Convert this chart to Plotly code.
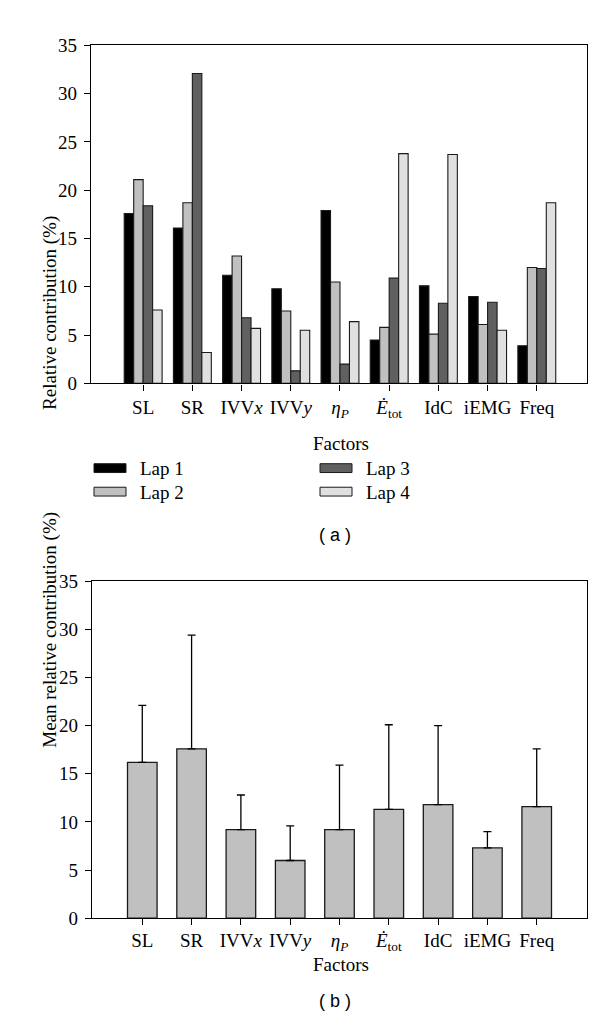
import plotly.graph_objects as go

factors = ["SL", "SR", "IVV<i>x</i>", "IVV<i>y</i>", "<i>η</i><sub><i>P</i></sub>",
           "<i>Ė</i><sub>tot</sub>", "IdC", "iEMG", "Freq"]
laps = ["Lap 1", "Lap 2", "Lap 3", "Lap 4"]
lap1 = [17.6, 16.1, 11.2, 9.8, 17.9, 4.5, 10.1, 9.0, 3.9]
lap2 = [21.1, 18.7, 13.2, 7.5, 10.5, 5.8, 5.1, 6.1, 12.0]
lap3 = [18.4, 32.1, 6.8, 1.3, 2.0, 10.9, 8.3, 8.4, 11.9]
lap4 = [7.6, 3.2, 5.7, 5.5, 6.4, 23.8, 23.7, 5.5, 18.7]
lap_colors = ["#000000", "#c0c0c0", "#606060", "#e0e0e0"]
mean_vals = [16.2, 17.6, 9.2, 6.0, 9.2, 11.3, 11.8, 7.3, 11.6]
sd_vals = [5.9, 11.8, 3.6, 3.6, 6.7, 8.8, 8.2, 1.7, 6.0]
yticks = [0, 5, 10, 15, 20, 25, 30, 35]

W, H = 600, 1029
SERIF = "Liberation Serif"

def px(x):
    return x / W

def py(y):
    return 1 - y / H

fig = go.Figure()
for name, vals, col in zip(laps, [lap1, lap2, lap3, lap4], lap_colors):
    fig.add_trace(go.Bar(x=factors, y=vals, name=name, marker_color=col,
                         marker_line=dict(color="#1a1a1a", width=1.1),
                         xaxis="x", yaxis="y", showlegend=False))

fig.add_trace(go.Bar(x=factors, y=mean_vals, marker_color="#c0c0c0",
                     marker_line=dict(color="#1a1a1a", width=1.3),
                     error_y=dict(type="data", array=sd_vals, symmetric=False,
                                  arrayminus=[0] * len(sd_vals),
                                  color="#000000", thickness=1.3, width=4),
                     width=0.6, xaxis="x2", yaxis="y2", showlegend=False))

axis_common = dict(showline=True, linecolor="#000000", linewidth=1.3, mirror=True,
                   ticks="outside", ticklen=6, tickwidth=1.3, tickcolor="#000000",
                   showgrid=False, zeroline=False,
                   tickfont=dict(family=SERIF, size=19, color="#000000"))

fig.update_layout(
    width=W, height=H, margin=dict(l=0, r=0, t=0, b=0),
    paper_bgcolor="white", plot_bgcolor="white",
    barmode="group", bargap=0.23, bargroupgap=0,
    xaxis=dict(domain=[px(83), px(579)], anchor="y", type="category",
               range=[-1.06, 9.02], ticklabelstandoff=1, **axis_common),
    yaxis=dict(domain=[py(373), py(28)], anchor="x", range=[0, 35],
               tickvals=yticks, ticklabelstandoff=3, **axis_common),
    xaxis2=dict(domain=[px(84), px(579)], anchor="y2", type="category",
                range=[-1.02, 9.02], ticklabelstandoff=-1, **axis_common),
    yaxis2=dict(domain=[py(919), py(575)], anchor="x2", range=[0, 35],
                tickvals=yticks, ticklabelstandoff=3, **axis_common),
)

annotations = [
    dict(text="Relative contribution (%)", x=px(29), y=py(200), textangle=-90,
         font=dict(family=SERIF, size=19)),
    dict(text="Factors", x=px(333), y=py(434), font=dict(family=SERIF, size=19)),
    dict(text="( a )", x=px(327), y=py(528), font=dict(family="Liberation Sans", size=18)),
    dict(text="Mean relative contribution (%)", x=px(29), y=py(747), textangle=-90,
         font=dict(family=SERIF, size=19)),
    dict(text="Factors", x=px(333), y=py(979), font=dict(family=SERIF, size=19)),
    dict(text="( b )", x=px(327), y=py(1016), font=dict(family="Liberation Sans", size=18)),
]

# legend swatches & labels
leg_pos = [(86, 455), (86, 479), (312, 455), (312, 479)]
shapes = []
for (lx, ly), name, col in zip(leg_pos, laps, lap_colors):
    shapes.append(dict(type="rect", xref="paper", yref="paper",
                       x0=px(lx), x1=px(lx + 32), y0=py(ly + 9), y1=py(ly),
                       fillcolor=col, line=dict(color="#1a1a1a", width=1)))
    annotations.append(dict(text=name, x=px(lx + 44), y=py(ly + 5), xanchor="left",
                            font=dict(family=SERIF, size=19)))

for a in annotations:
    a.setdefault("xref", "paper")
    a.setdefault("yref", "paper")
    a.setdefault("showarrow", False)
    a["font"]["color"] = "#000000"

fig.update_layout(annotations=annotations, shapes=shapes)
fig.write_html("out.html")
